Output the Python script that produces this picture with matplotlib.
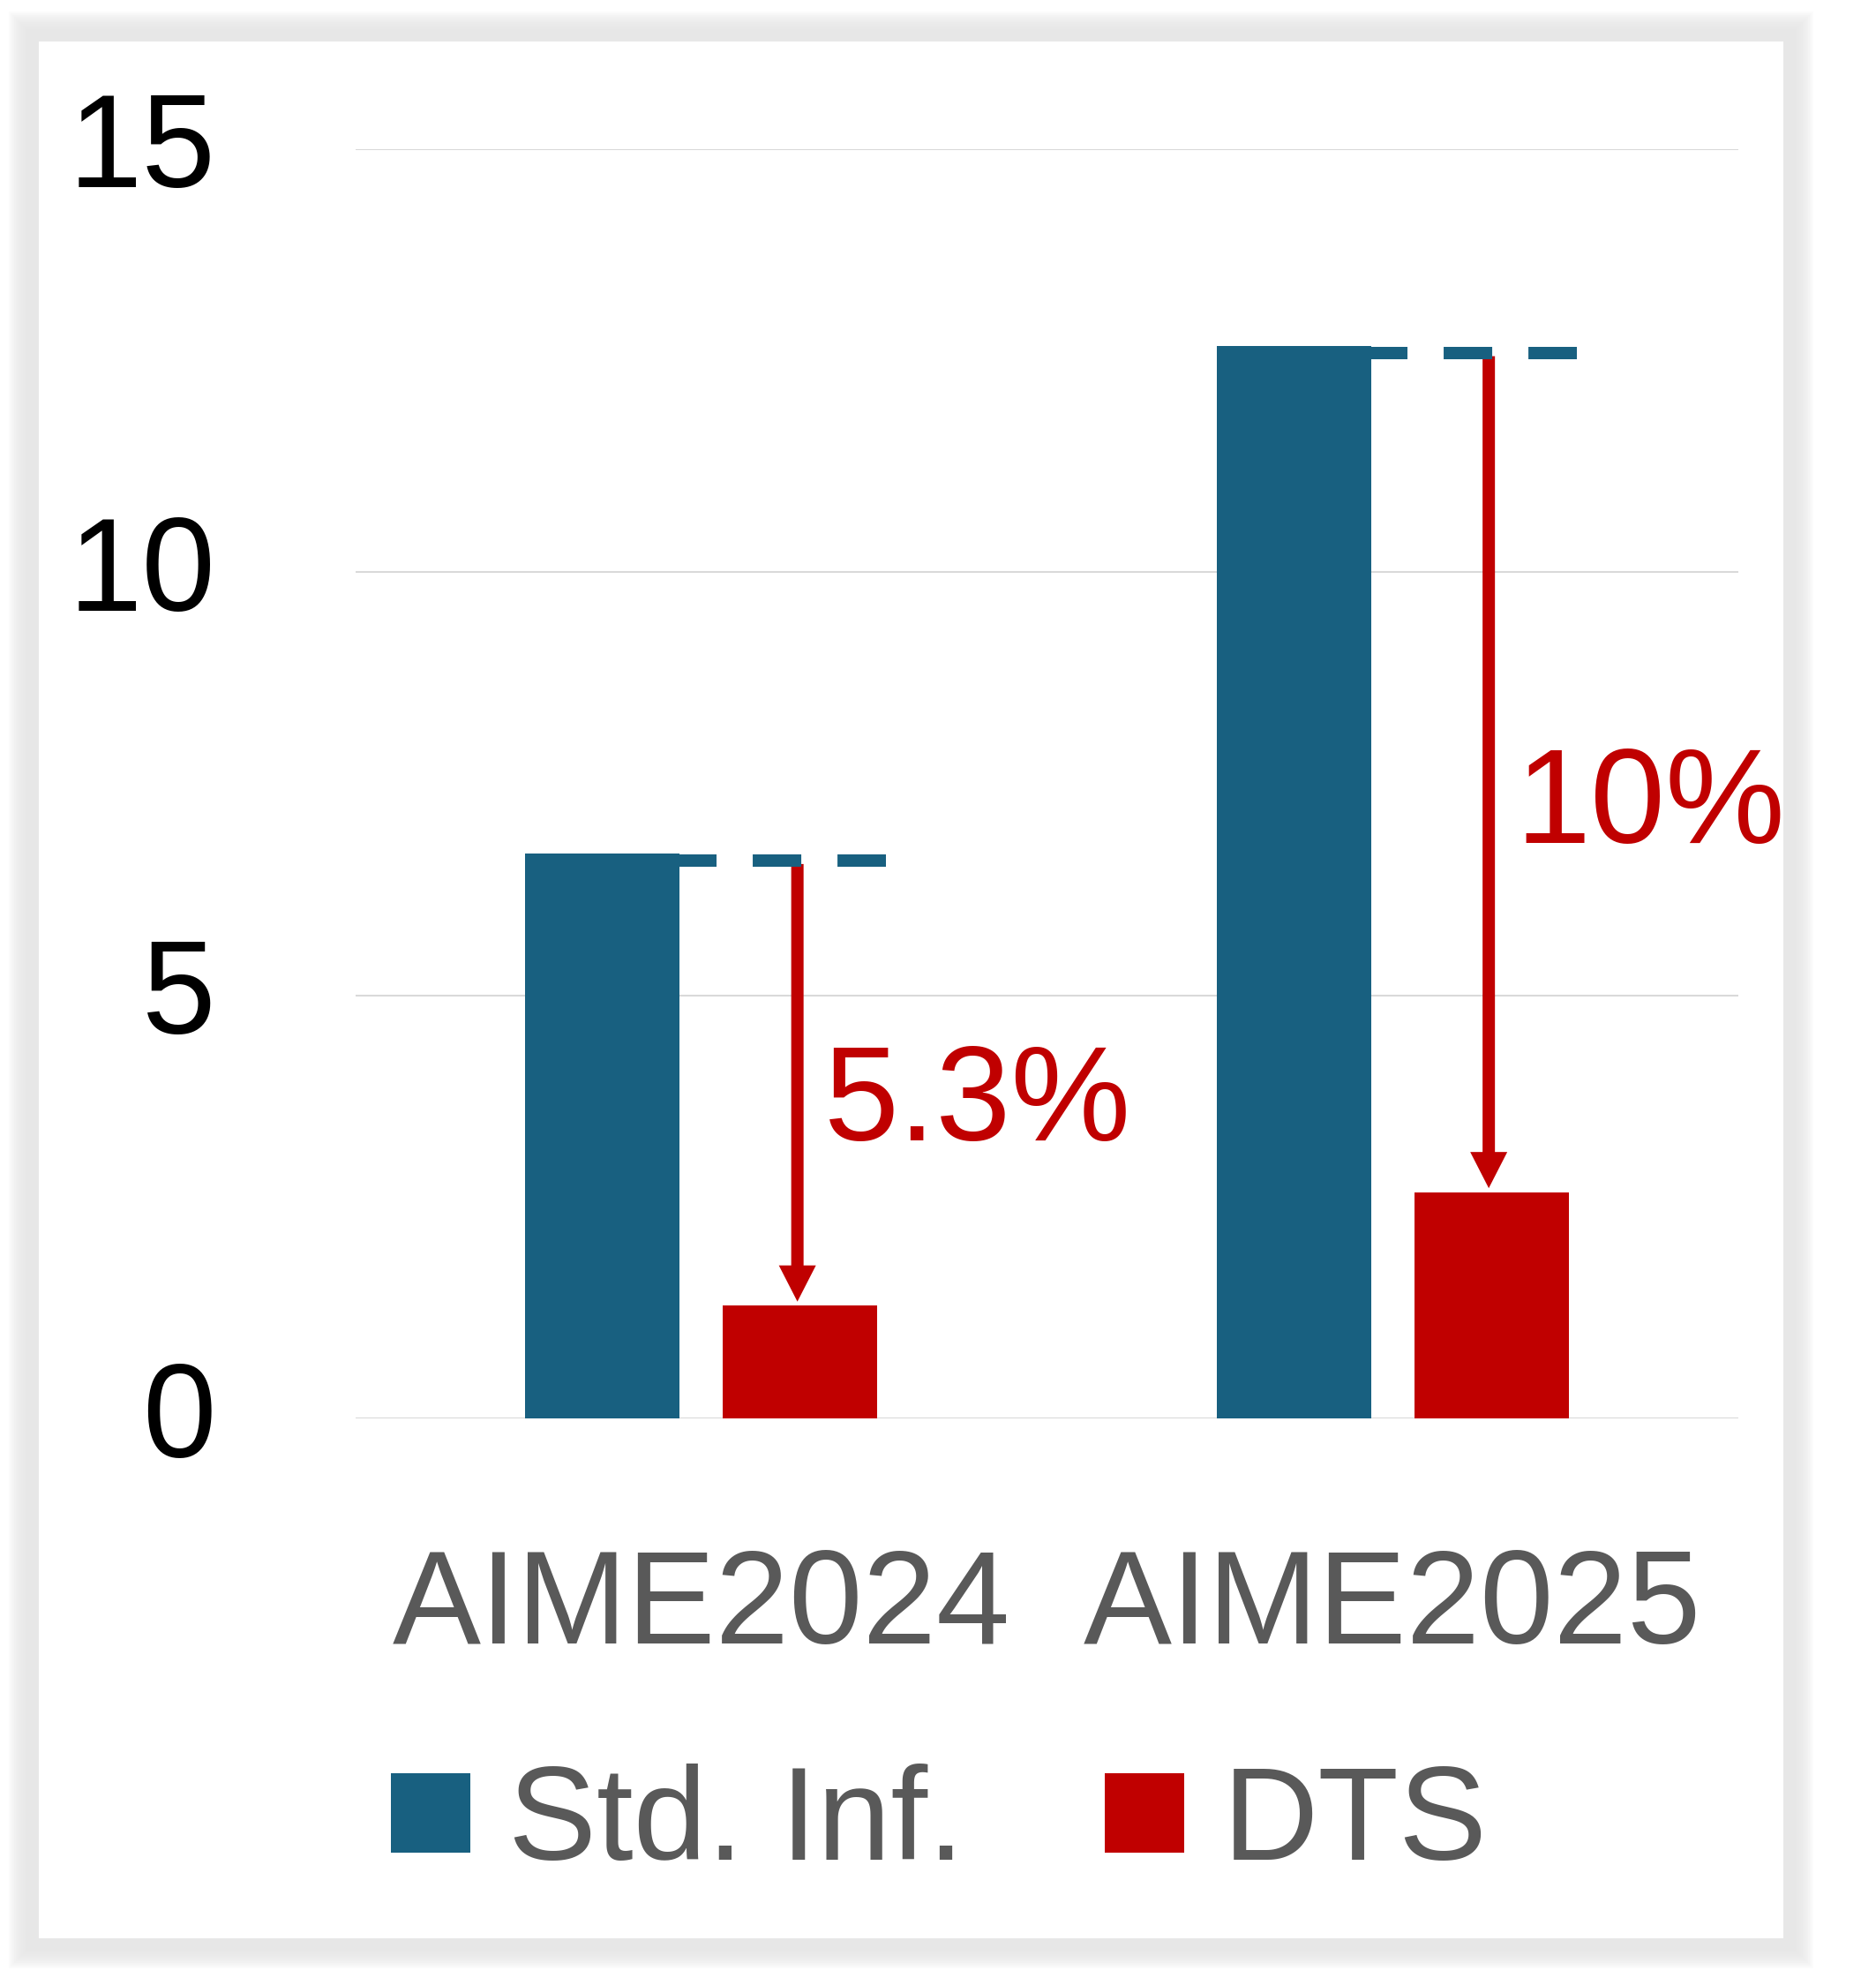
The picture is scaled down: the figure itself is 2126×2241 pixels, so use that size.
import numpy as np
import matplotlib.pyplot as plt
import matplotlib.transforms as mtransforms
from matplotlib.patches import Rectangle


categories = ['AIME2024', 'AIME2025']
std_inf = [6.67, 12.67]
dts = [1.33, 2.67]
drop_labels = ['5.3%', '10%']
label_y = [3.28, 6.8]
yticks = [0, 5, 10, 15]

blue = '#186080'
red = '#C00000'
gray_text = '#595959'
fs = 108

plt.rcParams['font.family'] = ['Liberation Sans', 'DejaVu Sans']

W, H = 2126, 2241
fig = plt.figure(figsize=(W / 100, H / 100), dpi=100)
fig.patch.set_facecolor('white')

# soft grey shadow around the white panel
px0, px1, py0, py1 = 44, 2021, 47, 2196


def fig_rect(e, **kw):
    return Rectangle(((px0 - e) / W, 1 - (py1 + e) / H),
                     (px1 - px0 + 2 * e) / W, (py1 - py0 + 2 * e) / H,
                     transform=fig.transFigure, lw=0, zorder=-5, **kw)


for e in range(34, 14, -2):
    fig.patches.append(fig_rect(e, color='#e6e6e6', alpha=0.15))
fig.patches.append(fig_rect(14, color='#e7e7e7'))
fig.patches.append(fig_rect(0, color='white'))

ax = fig.add_axes([403 / W, 1 - 1607 / H, (1970 - 403) / W, 1438.4 / H])
ax.set_facecolor('none')
ax.set_zorder(2)

x = np.arange(len(categories))
off = 0.143
w = 0.223

ax.bar(x - off, std_inf, w, color=blue, label='Std. Inf.', zorder=3)
ax.bar(x + off, dts, w, color=red, label='DTS', zorder=3)

for i in range(len(categories)):
    # dashed reference line at the Std. Inf. level
    xs = x[i] - off + w / 2 - 0.017
    ax.plot([xs, xs + 0.315], [std_inf[i] - 0.08, std_inf[i] - 0.08],
            color=blue, lw=10.08, linestyle=(0, (3.93, 2.93)),
            solid_capstyle='butt', dash_capstyle='butt', zorder=5)
    # drop arrow
    y0 = std_inf[i] - 0.12
    y1 = dts[i] + 0.05
    ax.arrow(x[i] + off - 0.004, y0, 0, y1 - y0, width=14 / 783.5,
             head_width=42 / 783.5, head_length=41 / 95.9,
             length_includes_head=True, color=red, lw=0, zorder=4)
    ax.text(x[i] + off + 0.035, label_y[i], drop_labels[i], color=red,
            fontsize=fs + 2, ha='left', va='baseline', zorder=6)

ax.set_xlim(-0.5, 1.5)
ax.set_ylim(0, 15)
ax.set_yticks(yticks)
ax.set_xticks(x)
ax.set_xticklabels(categories)
ax.grid(axis='y', color='#d9d9d9', lw=1.5, zorder=0)
ax.set_axisbelow(True)
for s in ax.spines.values():
    s.set_visible(False)
ax.tick_params(axis='y', length=0, pad=114, labelsize=fs, labelcolor='black')
ax.tick_params(axis='x', length=0, pad=105, labelsize=fs, labelcolor=gray_text)

lift = mtransforms.ScaledTranslation(0, 11 / 100, fig.dpi_scale_trans)
for lab in ax.get_yticklabels():
    lab.set_transform(lab.get_transform() + lift)

ax.legend(loc='lower left', bbox_to_anchor=(443 / W, 1 - 2138 / H),
          bbox_transform=fig.transFigure, ncol=2, frameon=False,
          fontsize=fs, labelcolor=gray_text, handlelength=0.6,
          handleheight=0.546, handletextpad=0.29, columnspacing=1.06,
          borderpad=0, borderaxespad=0)

fig.savefig('out.png', dpi=100)
